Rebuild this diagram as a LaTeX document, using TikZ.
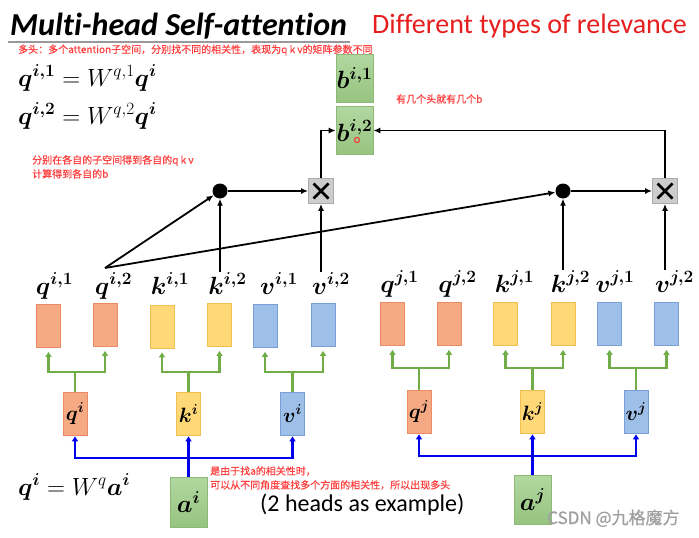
\documentclass[tikz,border=0pt]{standalone}
\usepackage{amsmath}
\usepackage{bm}
\usepackage[no-math]{fontspec}
\setmainfont{Carlito}[Ligatures={NoCommon}]
\newfontfamily\cjkfont{Noto Sans CJK SC}[FakeBold=0.6]
\usetikzlibrary{arrows.meta,calc}
\definecolor{orF}{RGB}{245,170,132}
\definecolor{orD}{RGB}{232,140,100}
\definecolor{yeF}{RGB}{255,216,120}
\definecolor{yeD}{RGB}{242,192,80}
\definecolor{blF}{RGB}{158,192,232}
\definecolor{blD}{RGB}{120,160,212}
\definecolor{grT}{RGB}{178,215,160}
\definecolor{grB}{RGB}{150,196,128}
\definecolor{grD}{RGB}{140,185,120}
\definecolor{grA}{RGB}{112,173,71}
\definecolor{blA}{RGB}{0,0,235}
\definecolor{noteR}{RGB}{255,64,64}
\definecolor{titR}{RGB}{230,30,30}
\definecolor{xF}{RGB}{205,205,205}
\definecolor{xD}{RGB}{170,170,170}
\begin{document}
\begin{tikzpicture}[x=1pt,y=-1pt,
  vbox/.style 2 args={draw=#2, fill=#1, line width=0.8pt, minimum width=24pt, minimum height=43pt, inner sep=0pt},
  vq/.style={vbox={orF}{orD}},
  vk/.style={vbox={yeF}{yeD}},
  vv/.style={vbox={blF}{blD}},
  smallq/.style={vq, font=\fontsize{22}{24}\selectfont},
  smallk/.style={vk, font=\fontsize{22}{24}\selectfont},
  smallv/.style={vv, font=\fontsize{22}{24}\selectfont},
  lbl/.style={font=\fontsize{25}{27}\selectfont, inner sep=1pt, anchor=base},
  bbox/.style={draw=grD, line width=0.6pt, top color=grT, bottom color=grB, minimum width=37pt, minimum height=48pt, inner sep=0pt, font=\fontsize{24}{26}\selectfont},
  abox/.style={bbox, minimum height=50pt},
  dotn/.style={circle, fill=black, minimum size=15pt, inner sep=0pt},
  xbox/.style={draw=xD, fill=xF, line width=0.8pt, minimum size=25pt, inner sep=0pt,
    path picture={\draw[black, line width=2.6pt]
      ($(path picture bounding box.center)+(-7.5,-7.5)$) -- ($(path picture bounding box.center)+(7.5,7.5)$)
      ($(path picture bounding box.center)+(-7.5,7.5)$) -- ($(path picture bounding box.center)+(7.5,-7.5)$);}},
  blk/.style={line width=1.8pt, -{Latex[length=7pt,width=6pt]}},
  garr/.style={grA, line width=2.4pt, -{Triangle[length=5pt,width=6pt]}, shorten >=4pt},
  gln/.style={grA, line width=2.4pt},
  barr/.style={blA, line width=2.4pt, -{Triangle[length=5pt,width=6pt]}, shorten >=1pt},
  bln/.style={blA, line width=2.4pt},
  note/.style={text=noteR, font=\cjkfont\fontsize{10}{14}\selectfont, inner sep=0pt, align=left}
]
\fill[white] (0,0) rectangle (699,538);
\useasboundingbox (0,0) rectangle (699,538);

% titles
\node[anchor=base west, inner sep=0pt, font=\fontsize{32}{34}\selectfont\bfseries\itshape] (title) at (10,35) {Multi-head Self-attention};
\draw[gray!80, line width=1.4pt] (8,42) -- (350,42);
\node[anchor=base west, inner sep=0pt, text=titR, font=\fontsize{28}{30}\selectfont] (diff) at (372,33) {Different types of relevance};
\node[note, anchor=west] (n1) at (18,50) {多头：多个attention子空间，分别找不同的相关性，表现为q k v的矩阵参数不同};

% equations
\node[anchor=base west, inner sep=0pt, font=\fontsize{24}{26}\selectfont] (eq1) at (18,86) {$\bm{q}^{\bm{i,1}} = W^{q,1}\bm{q}^{\bm{i}}$};
\node[anchor=base west, inner sep=0pt, font=\fontsize{24}{26}\selectfont] (eq2) at (18,124) {$\bm{q}^{\bm{i,2}} = W^{q,2}\bm{q}^{\bm{i}}$};
\node[anchor=base west, inner sep=0pt, font=\fontsize{24}{26}\selectfont] (eq3) at (18,495) {$\bm{q}^{\bm{i}} = W^{q}\bm{a}^{\bm{i}}$};

% outputs
\node[bbox] (b1) at (354.5,78) {$\bm{b}^{\bm{i,1}}$};
\node[bbox] (b2) at (354.5,130.5) {$\bm{b}^{\bm{i,2}}$};
\draw[noteR, line width=1.2pt] (357,140) circle (2.6);
\node[note, anchor=west] (n2) at (396,99) {有几个头就有几个b};
\node[note, anchor=north west] (n3) at (32,155) {分别在各自的子空间得到各自的q k v\\计算得到各自的b};

% attention operators
\node[dotn] (d1) at (220,191) {};
\node[xbox] (x1) at (321,191) {};
\node[dotn] (d2) at (563,191) {};
\node[xbox] (x2) at (665,191) {};

% labels row
\node[lbl] (lqi1) at (54.5,294) {$\bm{q}^{\bm{i,1}}$};
\node[lbl] (lqi2) at (113.5,294) {$\bm{q}^{\bm{i,2}}$};
\node[lbl] (lki1) at (170,294) {$\bm{k}^{\bm{i,1}}$};
\node[lbl] (lki2) at (227.5,294) {$\bm{k}^{\bm{i,2}}$};
\node[lbl] (lvi1) at (279,294) {$\bm{v}^{\bm{i,1}}$};
\node[lbl] (lvi2) at (331,294) {$\bm{v}^{\bm{i,2}}$};
\node[lbl] (lqj1) at (399.5,292) {$\bm{q}^{\bm{j,1}}$};
\node[lbl] (lqj2) at (457.5,292) {$\bm{q}^{\bm{j,2}}$};
\node[lbl] (lkj1) at (514.5,292) {$\bm{k}^{\bm{j,1}}$};
\node[lbl] (lkj2) at (570.5,292) {$\bm{k}^{\bm{j,2}}$};
\node[lbl] (lvj1) at (615,292) {$\bm{v}^{\bm{j,1}}$};
\node[lbl] (lvj2) at (674.5,292) {$\bm{v}^{\bm{j,2}}$};

% vectors
\node[vq] (rqi1) at (48.5,326) {};
\node[vq] (rqi2) at (105,325) {};
\node[vk] (rki1) at (162,326.5) {};
\node[vk] (rki2) at (219.5,325) {};
\node[vv] (rvi1) at (265,326) {};
\node[vv] (rvi2) at (323,325) {};
\node[vq] (rqj1) at (392.5,324) {};
\node[vq] (rqj2) at (449,324) {};
\node[vk] (rkj1) at (505.5,324) {};
\node[vk] (rkj2) at (563,324) {};
\node[vv] (rvj1) at (609.5,324) {};
\node[vv] (rvj2) at (666.5,324) {};

% q k v
\node[smallq] (sqi) at (75,413.5) {$\bm{q}^{\bm{i}}$};
\node[smallk] (ski) at (188.5,413.5) {$\bm{k}^{\bm{i}}$};
\node[smallv] (svi) at (292.5,413.5) {$\bm{v}^{\bm{i}}$};
\node[smallq] (sqj) at (419,411.5) {$\bm{q}^{\bm{j}}$};
\node[smallk] (skj) at (532.5,411.5) {$\bm{k}^{\bm{j}}$};
\node[smallv] (svj) at (636,411.5) {$\bm{v}^{\bm{j}}$};

% inputs
\node[abox] (ai) at (188.5,502) {$\bm{a}^{\bm{i}}$};
\node[abox, minimum height=49pt] (aj) at (532.5,499.5) {$\bm{a}^{\bm{j}}$};

% notes bottom
\node[note, anchor=west] (n4) at (210,471) {是由于找a的相关性时，};
\node[note, anchor=west] (n5) at (210,485) {可以从不同角度查找多个方面的相关性，所以出现多头};
\node[anchor=base west, inner sep=0pt, font=\fontsize{24}{26}\selectfont] (ex) at (260,511) {(2 heads as example)};
\node[anchor=base west, inner sep=0pt, text=gray!75, font=\cjkfont\fontsize{17}{18}\selectfont] (wm) at (547,524) {CSDN @九格魔方};

% black connectors
\coordinate (qo) at (105,268);
\draw[blk] (qo) -- (d1);
\draw[blk] (qo) -- (d2);
\draw[blk] (d1 |- lki2.north) -- (d1);
\draw[blk] (x1 |- lvi2.north) -- (x1);
\draw[blk] (d2 |- lkj2.north) -- (d2);
\draw[blk] (x2 |- lvj2.north) -- (x2);
\draw[blk] (d1) -- (x1);
\draw[blk] (d2) -- (x2);
\draw[blk] (x1.north) |- (b2.west);
\draw[blk] (x2.north) |- (b2.east);

% green connectors
\draw[gln] (sqi.north) -- (sqi.north |- 0,372);
\draw[garr] (sqi.north |- 0,372) -| (rqi1.south);
\draw[garr] (sqi.north |- 0,372) -| (rqi2.south);
\draw[gln] (ski.north) -- (ski.north |- 0,372);
\draw[garr] (ski.north |- 0,372) -| (rki1.south);
\draw[garr] (ski.north |- 0,372) -| (rki2.south);
\draw[gln] (svi.north) -- (svi.north |- 0,372);
\draw[garr] (svi.north |- 0,372) -| (rvi1.south);
\draw[garr] (svi.north |- 0,372) -| (rvi2.south);
\draw[gln] (sqj.north) -- (sqj.north |- 0,368);
\draw[garr] (sqj.north |- 0,368) -| (rqj1.south);
\draw[garr] (sqj.north |- 0,368) -| (rqj2.south);
\draw[gln] (skj.north) -- (skj.north |- 0,368);
\draw[garr] (skj.north |- 0,368) -| (rkj1.south);
\draw[garr] (skj.north |- 0,368) -| (rkj2.south);
\draw[gln] (svj.north) -- (svj.north |- 0,368);
\draw[garr] (svj.north |- 0,368) -| (rvj1.south);
\draw[garr] (svj.north |- 0,368) -| (rvj2.south);

% blue connectors
\draw[bln] (ai.north) -- (ai.north |- 0,458);
\draw[barr] (ai.north |- 0,458) -| (sqi.south);
\draw[barr] (ai.north |- 0,458) -| (svi.south);
\draw[barr] (ai.north) -- (ski.south);
\draw[bln] (aj.north) -- (aj.north |- 0,456);
\draw[barr] (aj.north |- 0,456) -| (sqj.south);
\draw[barr] (aj.north |- 0,456) -| (svj.south);
\draw[barr] (aj.north) -- (skj.south);
\end{tikzpicture}
\end{document}
